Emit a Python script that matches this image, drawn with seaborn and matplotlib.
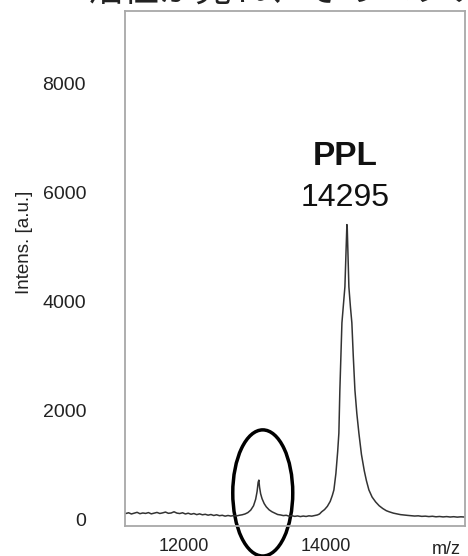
import pandas as pd
import seaborn as sns
import matplotlib.pyplot as plt
from matplotlib.patches import Ellipse
from matplotlib.ticker import MultipleLocator

# spectrum (m/z, intensity)
mz = [11180, 11220, 11260, 11300, 11340, 11380, 11420, 11460, 11500, 11540,
      11580, 11620, 11660, 11700, 11740, 11780, 11820, 11860, 11900, 11940,
      11980, 12020, 12060, 12100, 12140, 12180, 12220, 12260, 12300, 12340,
      12380, 12420, 12460, 12500, 12540, 12580, 12620, 12660, 12700, 12740,
      12780, 12820, 12860, 12900, 12940, 12980, 13010, 13030, 13045, 13055,
      13065, 13080, 13100, 13130, 13160, 13200, 13240, 13280, 13320, 13360,
      13400, 13440, 13480, 13520, 13560, 13600, 13640, 13680, 13720, 13760,
      13800, 13840, 13880, 13910, 13940, 13980, 14020, 14060, 14090, 14112,
      14140, 14165, 14182, 14196, 14225, 14267, 14285, 14295, 14300, 14310,
      14323, 14345, 14365, 14385, 14408, 14435, 14464, 14500, 14540, 14570,
      14605, 14650, 14700, 14750, 14800, 14850, 14890, 14950, 15000, 15050,
      15100, 15150, 15200, 15250, 15300, 15350, 15400, 15450, 15500, 15550,
      15600, 15650, 15700, 15750, 15800, 15850, 15900, 15950]
intens = [118, 132, 110, 125, 140, 115, 128, 120, 135, 112,
          126, 138, 119, 130, 145, 122, 128, 150, 126, 118,
          132, 110, 124, 105, 118, 98, 112, 95, 104, 88,
          100, 82, 95, 78, 86, 70, 82, 72, 80, 74,
          86, 95, 110, 135, 180, 260, 380, 520, 690, 730,
          600, 480, 390, 300, 240, 185, 150, 125, 100, 92,
          80, 86, 70, 78, 66, 74, 62, 72, 64, 76,
          70, 82, 92, 110, 150, 190, 250, 340, 450, 550,
          850, 1250, 1590, 2380, 3610, 4270, 5000, 5410, 5350, 4900,
          4270, 3900, 3610, 3000, 2380, 1950, 1590, 1200, 900, 720,
          550, 420, 330, 260, 210, 170, 150, 125, 112, 98,
          90, 84, 78, 72, 76, 66, 70, 62, 68, 58,
          64, 56, 62, 54, 60, 52, 58, 54]

peak_name = "PPL"
peak_mz = 14295

df = pd.DataFrame({"mz": mz, "intens": intens})

sns.set_style("white")
plt.rcParams['font.family'] = ['Liberation Sans', 'Noto Sans CJK JP', 'DejaVu Sans']

fig = plt.figure(figsize=(4.68, 5.56), dpi=100)
ax = fig.add_axes([0.267, 0.054, 0.7265, 0.926])

sns.lineplot(data=df, x="mz", y="intens", ax=ax, color="#333333", linewidth=1.1)

ax.set_xlim(11169, 15958)
ax.set_ylim(-110, 9320)
ax.xaxis.set_major_locator(MultipleLocator(2000))
ax.xaxis.set_minor_locator(MultipleLocator(1000))
ax.yaxis.set_major_locator(MultipleLocator(2000))
ax.yaxis.set_minor_locator(MultipleLocator(1000))
ax.tick_params(axis="both", which="both", direction="out", color="#808080",
               length=4, width=1, labelcolor="#222222")
ax.tick_params(axis="x", labelsize=13, pad=5)
ax.tick_params(axis="y", labelsize=14, pad=24)
ax.set_xlabel("")
ax.set_ylabel("Intens. [a.u.]", fontsize=13.5, color="#222222")
ax.yaxis.set_label_coords(-0.27, 0.55)
for s in ax.spines.values():
    s.set_color("#a8a8a8")
    s.set_linewidth(1.3)

# peak label
ax.text(peak_mz - 30, 6650, peak_name, ha="center", va="center",
        fontsize=24, fontweight="bold", color="#111111")
ax.text(peak_mz - 30, 5900, str(peak_mz), ha="center", va="center",
        fontsize=23, color="#111111")

# highlighted small peak
ax.add_patch(Ellipse((13110, 495), 845, 2310, fill=False, edgecolor="black",
                     linewidth=2.5, clip_on=False))

fig.text(446 / 468, 1 - 549 / 556, "m/z", ha="center", va="center",
         fontsize=13, color="#222222")

# page text cut off at the top
fig.text(88 / 468, 1 - 1 / 556, "活性が見れ、そのペプチ", ha="left", va="baseline",
         fontsize=26, color="#222222", family=['Noto Sans CJK JP', 'DejaVu Sans'])

fig.savefig("out.png", dpi=100)
